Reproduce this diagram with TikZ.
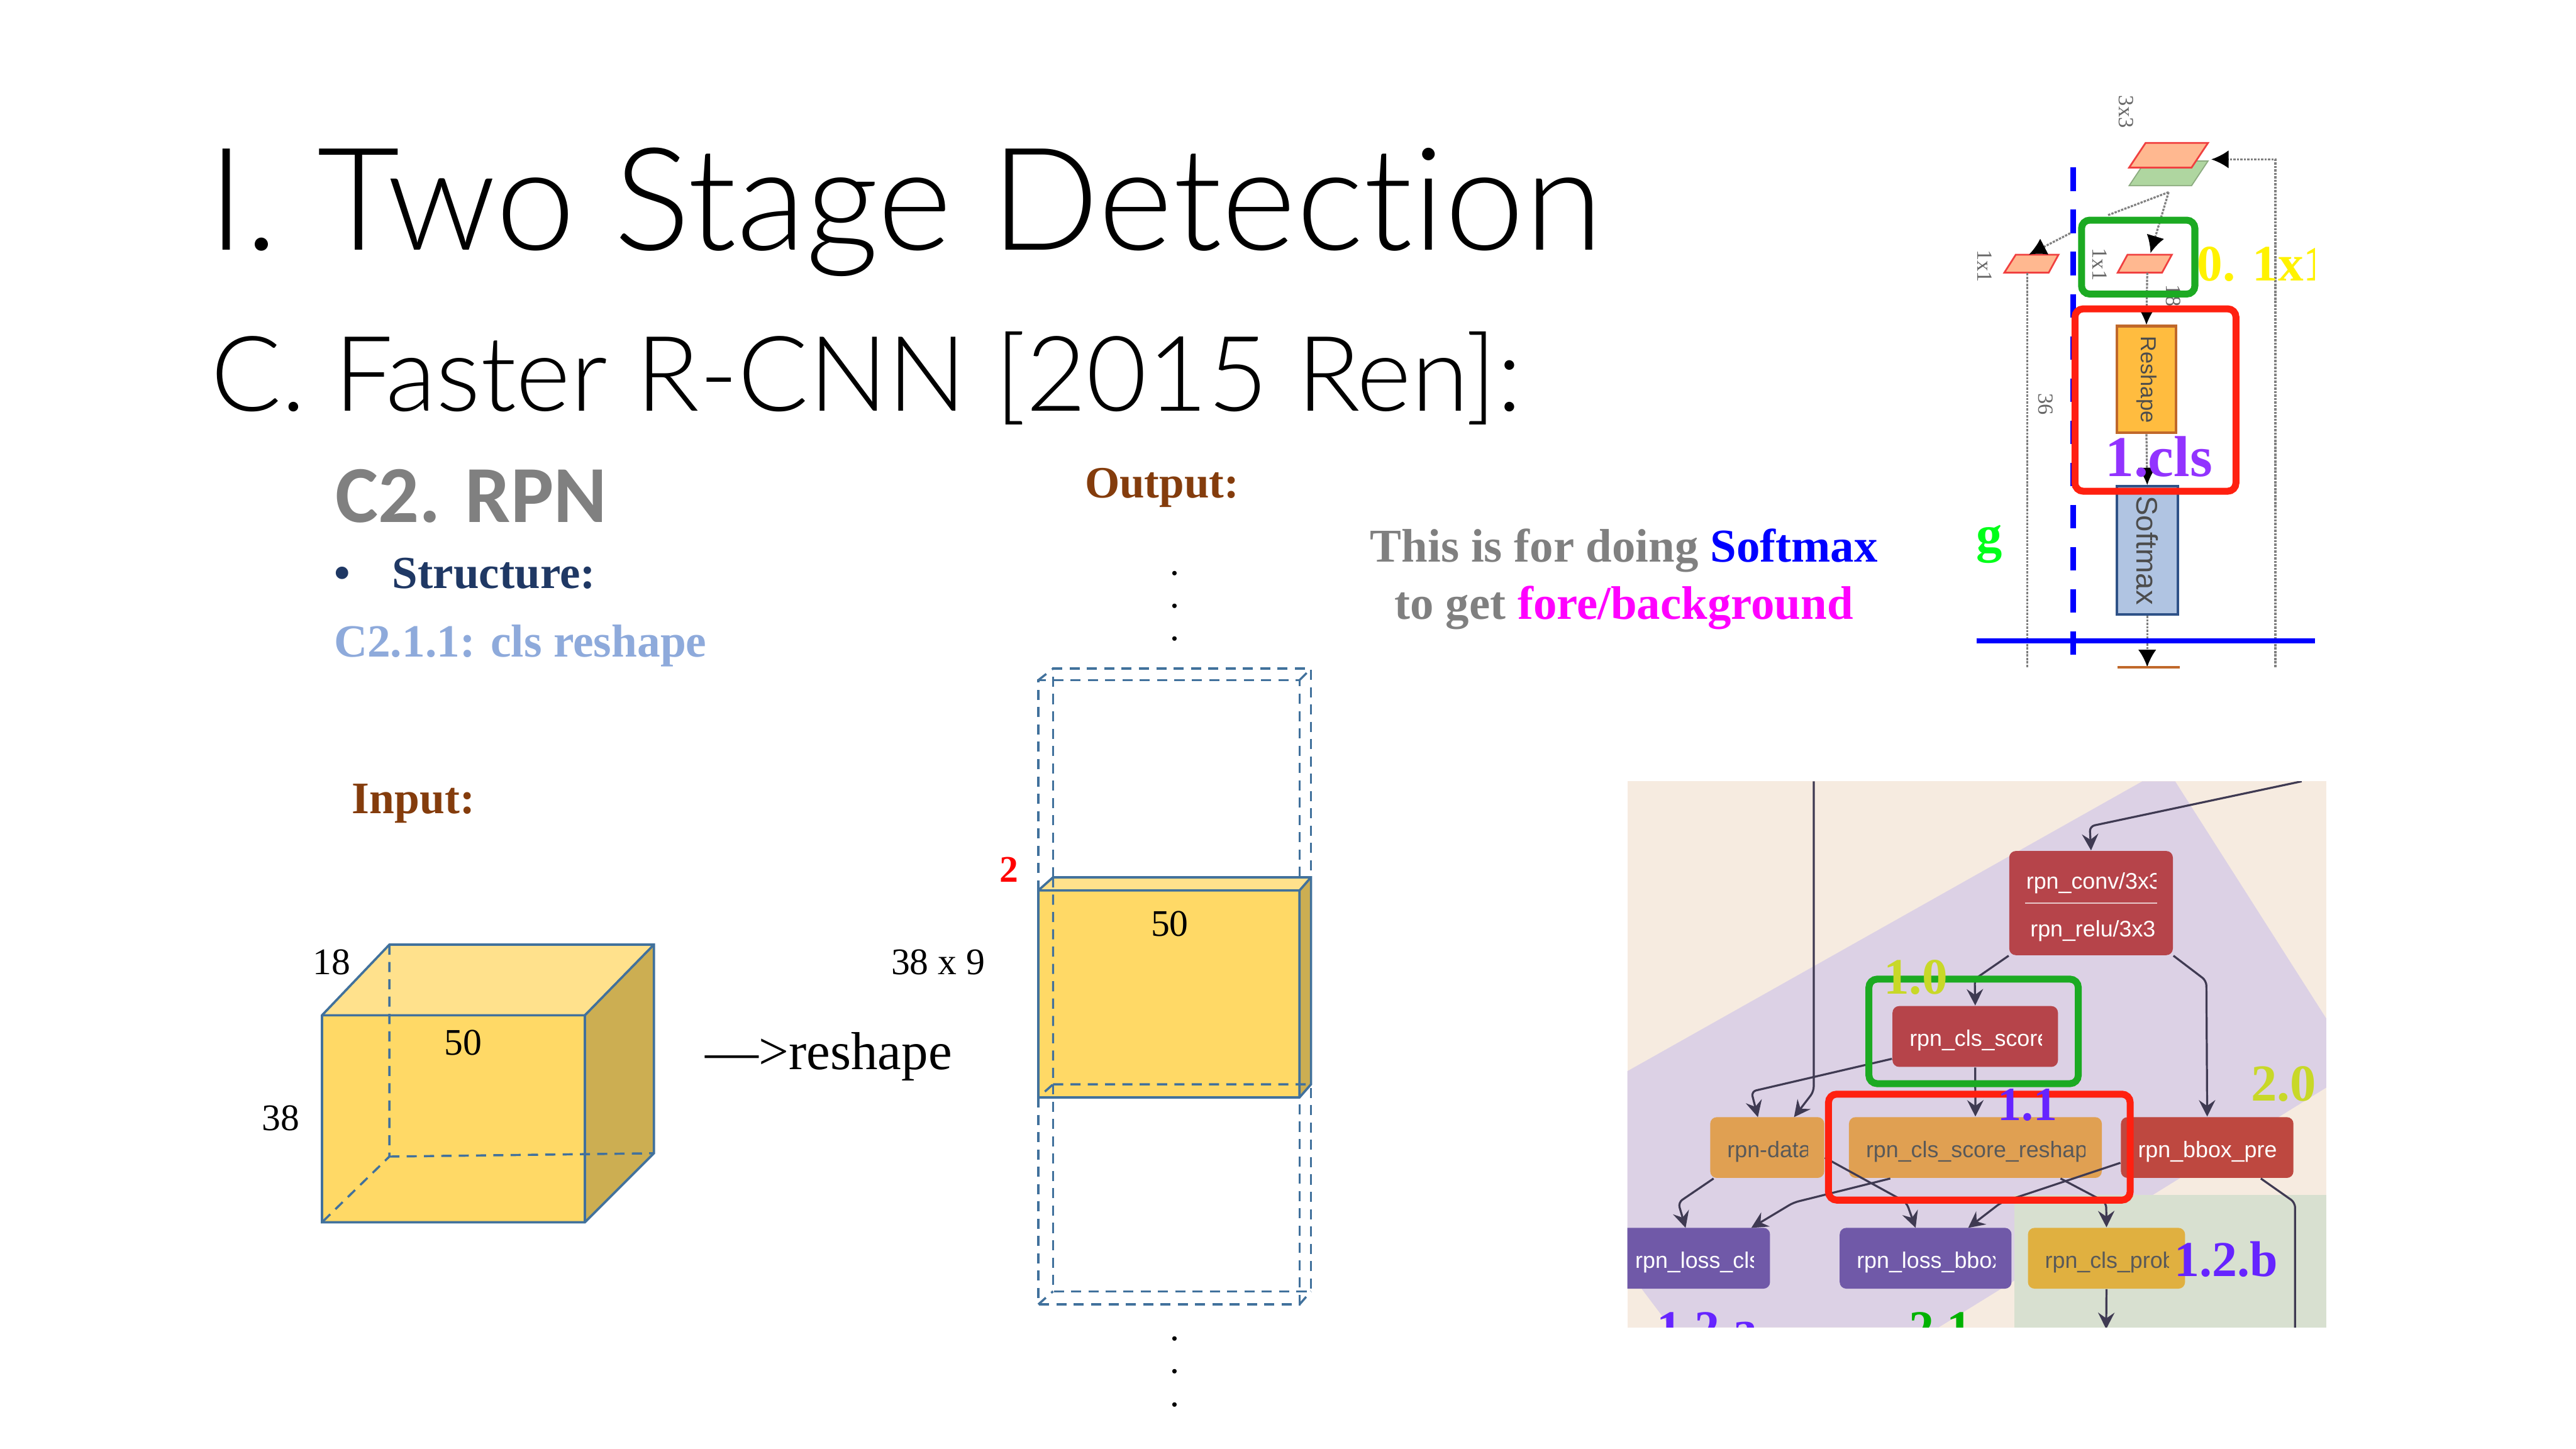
\documentclass[tikz,border=0pt]{standalone}
\usepackage{fontspec}
\usetikzlibrary{arrows.meta}
\setmainfont{Liberation Serif}
\setsansfont{Liberation Sans}
\newfontfamily\titlefont[UprightFont=* Light,Ligatures=NoCommon]{Lato}
\newfontfamily\headfont{Carlito}
\newcommand{\fsize}[1]{\fontsize{#1}{#1}\selectfont}
\definecolor{cubeblue}{HTML}{41719C}
\definecolor{cubefront}{HTML}{FFD966}
\definecolor{cubetop}{HTML}{FFE18C}
\definecolor{cubeside}{HTML}{CCAE52}
\definecolor{inkbrown}{HTML}{843C0C}
\definecolor{inknavy}{HTML}{1F3864}
\definecolor{inkpale}{HTML}{8EAADB}
\definecolor{inkblue}{HTML}{0000FF}
\definecolor{inkmagenta}{HTML}{FF00FF}
\definecolor{netback}{HTML}{F6EBE0}
\definecolor{netlilac}{HTML}{DCD1E5}
\definecolor{netgreen}{HTML}{D8E0D0}
\definecolor{netred}{HTML}{B6444A}
\definecolor{netbrick}{HTML}{BE4840}
\definecolor{netorange}{HTML}{E0A052}
\definecolor{netgold}{HTML}{E0B040}
\definecolor{netviolet}{HTML}{7059A8}
\definecolor{netline}{HTML}{3F3A52}
\definecolor{markgreen}{HTML}{1CAA22}
\definecolor{markred}{HTML}{FF2010}
\definecolor{markpurple}{HTML}{9233FF}
\definecolor{marklime}{HTML}{C8D828}
\definecolor{layerorange}{HTML}{FFBC3F}
\definecolor{layerrim}{HTML}{C0682A}
\definecolor{layerblue}{HTML}{B0C4E2}
\definecolor{layernavy}{HTML}{2F5288}
\definecolor{sheetpeach}{HTML}{FFB890}
\definecolor{sheetgreen}{HTML}{AFD6A0}
\definecolor{sheetrim}{HTML}{F04040}
\tikzset{
  txt/.style={inner sep=0pt,anchor=base west},
  mid/.style={inner sep=0pt,anchor=base},
  cubeline/.style={draw=cubeblue,line width=.8pt},
  hidden/.style={draw=cubeblue,line width=.75pt,dash pattern=on 3.5pt off 2.5pt},
  gridline/.style={draw=black!50,line width=.7pt,dash pattern=on .8pt off .4pt},
  gridarrow/.style={gridline,-{Latex[length=2.1mm,width=2.2mm,black,sep=0pt]}},
  rot/.style={inner sep=0pt,rotate=-90,font=\fsize{7.5},text=black!60},
  layerbox/.style={draw,line width=.9pt,rotate=-90,inner sep=0pt,font=\sffamily,text=black!70},
  sheet/.style={fill=sheetpeach,draw=sheetrim,line width=.6pt},
  netlink/.style={draw=netline,line width=.7pt,rounded corners=.6mm},
  netarrow/.style={netlink,-{Stealth[length=2mm,width=2mm,inset=.7mm]}},
  netbox/.style={rounded corners=.8mm,minimum height=37*.2mm,inner sep=0pt},
  netlabel/.style n args={2}{path picture={
    \clip ([xshift=5.7pt]path picture bounding box.south west) rectangle ([xshift=-5.7pt]path picture bounding box.north east);
    \node[inner sep=0pt,anchor=west,align=left,text=#1,font=\sffamily\fontsize{7.8}{16.5}\selectfont,minimum width=0pt,minimum height=0pt] at ([xshift=5.7pt,yshift=-1.4pt]path picture bounding box.west) {#2};
  }},
  marktxt/.style={inner sep=0pt,anchor=base,font=\bfseries\fsize{18}},
}
\begin{document}
\begin{tikzpicture}[x=.2mm,y=-.2mm]
\path[use as bounding box] (0,0) rectangle (1568,882);
\node[txt,font=\titlefont\fsize{49.5}] (title) at (126,152) {I. Two Stage Detection};
\node[txt,font=\titlefont\fsize{36.2}] (subtitle) at (128,250) {C. Faster R-CNN [2015 Ren]:};
\node[txt,font=\headfont\bfseries\fsize{28},text=black!50] (section) at (204,318) {C2. RPN};
\node[txt,font=\bfseries\fsize{15.9},text=inknavy] (structure) at (203,358) {\makebox[20.2pt][l]{\textbullet}Structure:};
\node[txt,font=\bfseries\fsize{16},text=inkpale] (subsection) at (203,400) {C2.1.1: cls reshape};
\node[txt,font=\bfseries\fsize{15.6},text=inkbrown] (input) at (214,495) {Input:};
\node[txt,font=\bfseries\fsize{15.5},text=inkbrown] (output) at (660,303) {Output:};
\node[mid,font=\bfseries\fsize{16.3},text=black!50] (note1) at (988.5,342) {This is for doing \textcolor{inkblue}{Softmax}};
\node[mid,font=\bfseries\fsize{16.3},text=black!50] (note2) at (988.5,377) {to get \textcolor{inkmagenta}{fore/background}};
\foreach \y/\name in {350/a,370/b,390/c,816/d,836/e,856/f}
  \node[mid,font=\fsize{13}] (dot\name) at (715,\y) {.};
% input cube
\fill[cubetop] (196,618) -- (237,575) -- (398,575) -- (356,618) -- cycle;
\fill[cubeside] (356,618) -- (398,575) -- (398,702) -- (356,744) -- cycle;
\fill[cubefront] (196,618) rectangle (356,744);
\draw[cubeline] (196,618) -- (237,575) -- (398,575) -- (398,702) -- (356,744) -- (196,744) -- cycle;
\draw[cubeline] (196,618) -- (356,618) -- (356,744) (356,618) -- (398,575);
\draw[hidden] (237,575) -- (237,704) -- (196,744) (237,704) -- (398,702);
\node[mid,font=\fsize{13}] (depth) at (202,593) {18};
\node[mid,font=\fsize{13}] (height) at (171,688) {38};
\node[mid,font=\fsize{13}] (width) at (282,642) {50};
\node[txt,font=\fsize{18.5}] (reshape) at (429,651) {—>reshape};
\node[mid,font=\fsize{13}] (newheight) at (571,593) {38 x 9};
% output slab with its neighbours
\draw[hidden] (632,542) -- (632,414) -- (791,414) -- (791,542);
\draw[hidden] (641,534) -- (641,407) -- (798,407) -- (798,534);
\draw[hidden] (632,414) -- (641,407) (791,414) -- (798,407);
\fill[cubetop] (632,542) -- (641,534) -- (798,534) -- (791,542) -- cycle;
\fill[cubeside] (791,542) -- (798,534) -- (798,660) -- (791,668) -- cycle;
\fill[cubefront] (632,542) rectangle (791,668);
\draw[cubeline] (632,542) -- (641,534) -- (798,534) -- (798,660) -- (791,668) -- (632,668) -- cycle;
\draw[cubeline] (632,542) -- (791,542) -- (791,668) (791,542) -- (798,534);
\draw[hidden] (641,534) -- (641,660) -- (632,668) (641,660) -- (798,660);
\draw[hidden] (632,668) -- (632,794) -- (791,794) -- (791,668);
\draw[hidden] (641,660) -- (641,786) -- (798,786) -- (798,660);
\draw[hidden] (632,794) -- (641,786) (791,794) -- (798,786);
\node[mid,font=\bfseries\fsize{13},text=red] (channels) at (614,537) {2};
\node[mid,font=\fsize{13}] (slabwidth) at (712,570) {50};
% network sketch, top right
\coordinate (sidein) at (1385,97);
\coordinate (sideend) at (1385,406);
\coordinate (split) at (1320,117);
\coordinate (gapa) at (1283,131);
\coordinate (gapb) at (1262,141);
\coordinate (convtip) at (1346,97);
\coordinate (lefttip) at (1235,155);
\coordinate (lefttail) at (1234,166);
\coordinate (leftend) at (1234,406);
\coordinate (midtip) at (1309,154);
\coordinate (midtail) at (1307,166);
\coordinate (outtip) at (1307,406);
\fill[sheetgreen,draw=sheetgreen!80!black,line width=.4pt] (1296,113) -- (1306,98) -- (1344,98) -- (1334,113) -- cycle;
\path[sheet] (1296,102) -- (1306,87) -- (1344,87) -- (1334,102) -- cycle;
\path[sheet] (1220,166) -- (1227,155) -- (1253,155) -- (1247,166) -- cycle;
\path[sheet] (1289,166) -- (1295,155) -- (1322,155) -- (1316,166) -- cycle;
\draw[gridline] (leftend) -- (lefttail);
\draw[gridarrow] (sideend) -- (sidein) -- (convtip);
\draw[gridline] (split) -- (gapa);
\draw[gridarrow] (gapb) -- (lefttip);
\draw[gridarrow] (split) -- (midtip);
\node[rot] (kernel) at (1294,68) {3x3};
\node[rot] (leftkernel) at (1208,162) {1x1};
\node[rot] (midkernel) at (1278,161) {1x1};
\node[rot] (longsize) at (1245,246) {36};
\begin{scope}
\clip (1310,165) rectangle (1340,186);
\node[rot] (shortsize) at (1323,180) {18};
\end{scope}
\node[layerbox,draw=layerrim,fill=layerorange,minimum width=65*.2mm,minimum height=36*.2mm,font=\sffamily\fsize{7.5}] (reshapebox) at (1306.5,231) {Reshape};
\node[layerbox,draw=layernavy,fill=layerblue,minimum width=78*.2mm,minimum height=37*.2mm,font=\sffamily\fsize{10.3}] (softmaxbox) at (1307,335) {Softmax};
\draw[gridarrow] (midtail) -- (reshapebox.west);
\draw[gridarrow] (reshapebox.east) -- (softmaxbox.west);
\draw[gridarrow] (softmaxbox.east) -- (outtip);
\draw[layerrim,line width=.9pt] (1289,406) -- (1327,406);
\draw[blue,line width=1.9pt,dash pattern=on 8.1pt off 6.5pt] (1262,102) -- (1262,400);
\draw[blue,line width=1.7pt] (1203,390) -- (1409,390);
\draw[markgreen,line width=2.4pt,rounded corners=1mm] (1267,134) rectangle (1336,179);
\draw[markred,line width=2.4pt,rounded corners=1mm] (1263,188) rectangle (1361,299);
\begin{scope}
\clip (1300,130) rectangle (1409,190);
\node[txt,font=\bfseries\fsize{17.7},text=yellow] (step0) at (1337,171) {0. 1x1};
\end{scope}
\node[marktxt,font=\bfseries\fsize{20},text=markpurple] (step1) at (1314,290) {1.cls};
\node[marktxt,text=green!90!cyan] (stepg) at (1211,336) {g};
% network graph, bottom right
\begin{scope}
\clip (990.6,475.6) rectangle (1416,808);
\fill[netback] (990.6,475.6) rectangle (1416,808);
\fill[netlilac] (990.6,652) -- (1304,475.6) -- (1324,475.6) -- (1416,620) -- (1416,662) -- (1180,808) -- (1017,808) -- (990.6,773) -- cycle;
\fill[netgreen] (1226,727.5) rectangle (1416,808);
\foreach \name/\cx/\cy/\boxw/\col/\ink/\txt in {
  rpnscore/1202.3/630.9/100.7/netred/white/rpn\_cls\_score,
  rpndata/1075.7/698.5/69.4/netorange/black!65/rpn-data,
  rpnreshape/1202.4/698.5/153.9/netorange/black!65/rpn\_cls\_score\_reshape,
  rpnbbox/1343.5/698.5/105/netbrick/white/rpn\_bbox\_pred,
  rpnlosscls/1031.2/765.9/92.4/netviolet/white/rpn\_loss\_cls,
  rpnlossbbox/1172.1/765.9/104.6/netviolet/white/rpn\_loss\_bbox,
  rpnprob/1282.2/765.9/95.6/netgold/black!65/rpn\_cls\_prob}
  \node[netbox,fill=\col,minimum width=\boxw*.2mm,netlabel={\ink}{\txt}] (\name) at (\cx,\cy) {};
\node[netbox,fill=netred,minimum width=99.6*.2mm,minimum height=63.4*.2mm,netlabel={white}{rpn\_conv/3x3\\\hspace*{1.4pt}rpn\_relu/3x3}] (rpnconv) at (1272.8,549.7) {};
\draw[white!70!netred,line width=.4pt] ([xshift=5.7pt]rpnconv.west) -- ([xshift=-5.7pt]rpnconv.east);
\coordinate (topfar) at (1401,475.6);
\coordinate (topbend) at (1272,503);
\coordinate (datafar) at (1104,475.6);
\coordinate (dataina) at (1070,680);
\coordinate (datainb) at (1092,680);
\coordinate (bboxfar) at (1397,812);
\coordinate (probfar) at (1282,809);
\coordinate (clsina) at (1026,747.4);
\coordinate (clsinb) at (1066,747.4);
\coordinate (bboxina) at (1166,747.4);
\coordinate (bboxinb) at (1198,747.4);
\draw[netarrow] (topfar) -- (topbend) -- (rpnconv.north);
\draw[netarrow] (rpnconv.south west) -- (1202,596) -- (rpnscore.north);
\draw[netarrow] (rpnconv.south east) -- (1343,597) -- (rpnbbox.north);
\draw[netarrow] (rpnscore.south) -- (rpnreshape.north);
\draw[netarrow] (rpnscore.195) -- (1066,664.4) -- (dataina);
\draw[netarrow] (datafar) -- (1104,664.4) -- (datainb);
\draw[netarrow] (rpndata.-150) -- (1021.5,732) -- (clsina);
\draw[netarrow] (rpndata.-10) -- (1160.5,732) -- (bboxina);
\draw[netarrow] (rpnreshape.-160) -- (1091.7,732) -- (clsinb);
\draw[netarrow] (rpnreshape.-20) -- (1282,732) -- (rpnprob.north);
\draw[netarrow] (rpnbbox.190) -- (1218,732) -- (bboxinb);
\draw[netlink] (rpnbbox.-30) -- (1397,732) -- (bboxfar);
\draw[netarrow] (rpnprob.south) -- (probfar);
\draw[markgreen,line width=2.4pt,rounded corners=1mm] (1137.6,596) rectangle (1265,659.6);
\draw[markred,line width=2.4pt,rounded corners=1mm] (1113,666) rectangle (1296.6,730.5);
\node[marktxt,text=marklime,font=\bfseries\fsize{17.7}] (score10) at (1166,605) {1.0};
\node[marktxt,text=marklime,font=\bfseries\fsize{18}] (score20) at (1390,670) {2.0};
\node[marktxt,text=markpurple!70!blue,font=\bfseries\fsize{16.5}] (score11) at (1234,682) {1.1};
\node[marktxt,text=markpurple!70!blue,font=\bfseries\fsize{17.4}] (score12b) at (1355,777) {1.2.b};
\node[marktxt,text=markpurple!70!blue,font=\bfseries\fsize{17.4}] (score12a) at (1039,819) {1.2.a};
\node[marktxt,text=green!70!black,font=\bfseries\fsize{17.4}] (score21) at (1181,819) {2.1};
\end{scope}
\end{tikzpicture}
\end{document}
